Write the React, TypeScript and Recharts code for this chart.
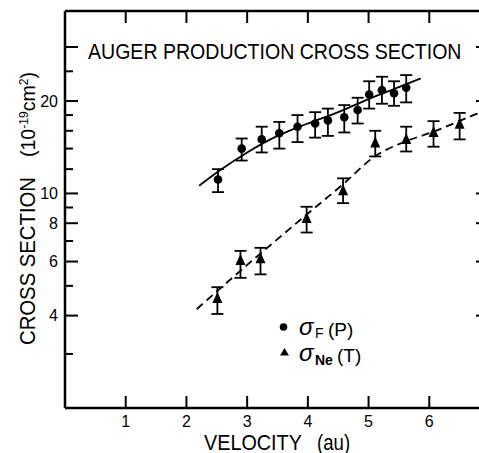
import React from 'react';
import { ComposedChart, Scatter, Line, XAxis, YAxis, ErrorBar, Customized } from 'recharts';

// sigma_F(P) measurements
const fVelocity = [2.52, 2.91, 3.24, 3.53, 3.83, 4.12, 4.33, 4.6, 4.82, 5.01, 5.22, 5.42, 5.62];
const fSigma = [11.1, 14.0, 15.0, 15.7, 16.5, 16.9, 17.3, 17.7, 18.7, 21.0, 21.7, 21.2, 22.1];
const fLow = [10.1, 12.8, 13.6, 14.0, 14.7, 15.2, 15.4, 15.8, 16.9, 18.9, 19.6, 19.3, 19.8];
const fHigh = [12.0, 15.1, 16.5, 17.1, 18.0, 18.4, 18.9, 19.4, 20.5, 23.2, 24.0, 23.2, 24.3];

// sigma_Ne(T) measurements
const neVelocity = [2.51, 2.89, 3.22, 3.98, 4.58, 5.11, 5.62, 6.07, 6.5];
const neSigma = [4.55, 6.05, 6.13, 8.29, 10.2, 14.6, 15.0, 15.8, 16.8];
const neLow = [4.05, 5.31, 5.45, 7.46, 9.3, 13.2, 13.7, 14.2, 15.0];
const neHigh = [4.95, 6.5, 6.65, 9.05, 11.2, 16.0, 16.5, 17.2, 18.3];

// fitted curves
const fFitVelocity = [2.21, 2.5, 3.0, 3.5, 4.0, 4.5, 5.0, 5.5, 5.86];
const fFitSigma = [10.6, 11.7, 13.6, 15.4, 16.9, 18.4, 20.3, 22.2, 23.7];
const neFitVelocity = [2.17, 3.0, 4.0, 4.6, 5.1, 5.62, 6.07, 6.83, 7.0];
const neFitSigma = [4.2, 5.85, 8.6, 10.8, 13.2, 14.8, 15.9, 18.3, 18.8];

// axes
const xTicks = [1, 2, 3, 4, 5, 6];
const yTicks = [3, 4, 5, 6, 7, 8, 9, 10, 12, 14, 16, 18, 20, 25, 30];
const yLabelled = [4, 6, 8, 10, 20];
const yLong = [4, 6, 8, 10, 20, 30];
const yRightTicks = [4, 6, 8, 10, 20, 30];

const FONT = '"Liberation Sans", Arial, sans-serif';

const dataF = fVelocity.map((x, i) => ({ x, y: fSigma[i], err: [fSigma[i] - fLow[i], fHigh[i] - fSigma[i]] }));
const dataNe = neVelocity.map((x, i) => ({ x, y: neSigma[i], err: [neSigma[i] - neLow[i], neHigh[i] - neSigma[i]] }));
const fitF = fFitVelocity.map((x, i) => ({ x, y: fFitSigma[i] }));
const fitNe = neFitVelocity.map((x, i) => ({ x, y: neFitSigma[i] }));

const LeftTick = (p: any) => {
  const v = p.payload.value;
  const lab = yLabelled.includes(v);
  const len = yLong.includes(v) ? 13 : 8;
  return (
    <g>
      <line x1={p.x} y1={p.y} x2={p.x + len} y2={p.y} stroke="#000" strokeWidth={2} />
      {lab && (
        <text x={p.x - 7} y={p.y} dy={5.5} textAnchor="end" fontSize={16} fill="#000" fontFamily={FONT}>
          {v}
        </text>
      )}
    </g>
  );
};

const RightTick = (p: any) => (
  <line x1={p.x} y1={p.y} x2={p.x - 14} y2={p.y} stroke="#000" strokeWidth={2} />
);

const BottomTick = (p: any) => (
  <g>
    <line x1={p.x} y1={p.y} x2={p.x} y2={p.y - 12} stroke="#000" strokeWidth={2} />
    <text x={p.x} y={p.y + 19} textAnchor="middle" fontSize={16} fill="#000" fontFamily={FONT}>
      {p.payload.value}
    </text>
  </g>
);

const TopTick = (p: any) => (
  <line x1={p.x} y1={p.y} x2={p.x} y2={p.y + 12} stroke="#000" strokeWidth={2} />
);

const Dot = (p: any) => <circle cx={p.cx} cy={p.cy} r={4.3} fill="#000" />;
const Tri = (p: any) => (
  <polygon
    points={`${p.cx},${p.cy - 6.5} ${p.cx - 5},${p.cy + 4.5} ${p.cx + 5},${p.cy + 4.5}`}
    fill="#000"
  />
);

const Overlay = () => (
  <g fontFamily={FONT} fill="#000">
    <text fontSize={22} transform="translate(88 59) scale(0.889 1)">
      AUGER PRODUCTION CROSS SECTION
    </text>
    <text fontSize={22} transform="translate(35 345) rotate(-90) scale(0.923 1)">
      CROSS SECTION
    </text>
    <text fontSize={21} transform="translate(35 157) rotate(-90) scale(0.93 1)">
      (10
      <tspan dy={-7.5} fontSize={13}>-19</tspan>
      <tspan dy={7.5} fontSize={21}>cm</tspan>
      <tspan dy={-7.5} fontSize={13}>2</tspan>
      <tspan dy={7.5} fontSize={21}>)</tspan>
    </text>
    <text fontSize={22} transform="translate(204 450) scale(0.9 1)">
      VELOCITY
    </text>
    <text fontSize={22} transform="translate(317 450) scale(0.846 1)">
      (au)
    </text>
    {/* legend */}
    <circle cx={283.5} cy={327} r={3.8} fill="#000" />
    <text x={299} y={335} fontSize={24} fontStyle="italic">σ</text>
    <text x={315} y={338} fontSize={14}>F</text>
    <text x={328} y={336} fontSize={19}>(P)</text>
    <polygon points="284.5,348 280,355.5 289,355.5" fill="#000" />
    <text x={299} y={361} fontSize={24} fontStyle="italic">σ</text>
    <text x={315} y={365} fontSize={14} fontWeight="bold">Ne</text>
    <text x={337} y={362} fontSize={19}>(T)</text>
  </g>
);

export default function App() {
  return (
    <div style={{ position: 'absolute', left: 0, top: 0, width: 479, height: 453, overflow: 'hidden', background: '#fff' }}>
      <ComposedChart width={510} height={453} margin={{ top: 0, right: 0, bottom: 0, left: 0 }}>
        <XAxis
          dataKey="x"
          type="number"
          domain={[0, 7]}
          allowDataOverflow
          ticks={xTicks}
          interval={0}
          height={45}
          tickSize={0}
          tickMargin={0}
          tickLine={false}
          tick={<BottomTick />}
          axisLine={{ stroke: '#000', strokeWidth: 2.5 }}
        />
        <XAxis
          xAxisId="t"
          orientation="top"
          dataKey="x"
          type="number"
          domain={[0, 7]}
          allowDataOverflow
          ticks={xTicks}
          interval={0}
          height={11}
          tickSize={0}
          tickMargin={0}
          tickLine={false}
          tick={<TopTick />}
          axisLine={{ stroke: '#000', strokeWidth: 2.5 }}
        />
        <YAxis
          dataKey="y"
          type="number"
          scale="log"
          domain={[2, 39.3]}
          allowDataOverflow
          ticks={yTicks}
          interval={0}
          width={65}
          tickSize={0}
          tickMargin={0}
          tickLine={false}
          tick={<LeftTick />}
          axisLine={{ stroke: '#000', strokeWidth: 2.5 }}
        />
        <YAxis
          yAxisId="r"
          orientation="right"
          dataKey="y"
          type="number"
          scale="log"
          domain={[2, 39.3]}
          allowDataOverflow
          ticks={yRightTicks}
          interval={0}
          width={20}
          tickSize={0}
          tickMargin={0}
          tickLine={false}
          tick={<RightTick />}
          axisLine={{ stroke: '#000', strokeWidth: 2.5 }}
        />
        <Line data={fitF} dataKey="y" type="monotone" stroke="#000" strokeWidth={1.8} dot={false} activeDot={false} isAnimationActive={false} />
        <Line data={fitNe} dataKey="y" type="monotone" stroke="#000" strokeWidth={1.8} strokeDasharray="8 5" dot={false} activeDot={false} isAnimationActive={false} />
        <Scatter data={dataF} dataKey="y" shape={Dot} isAnimationActive={false}>
          <ErrorBar dataKey="err" direction="y" width={6} stroke="#000" strokeWidth={1.8} />
        </Scatter>
        <Scatter data={dataNe} dataKey="y" shape={Tri} isAnimationActive={false}>
          <ErrorBar dataKey="err" direction="y" width={6} stroke="#000" strokeWidth={1.8} />
        </Scatter>
        <Customized component={<Overlay />} />
      </ComposedChart>
    </div>
  );
}
